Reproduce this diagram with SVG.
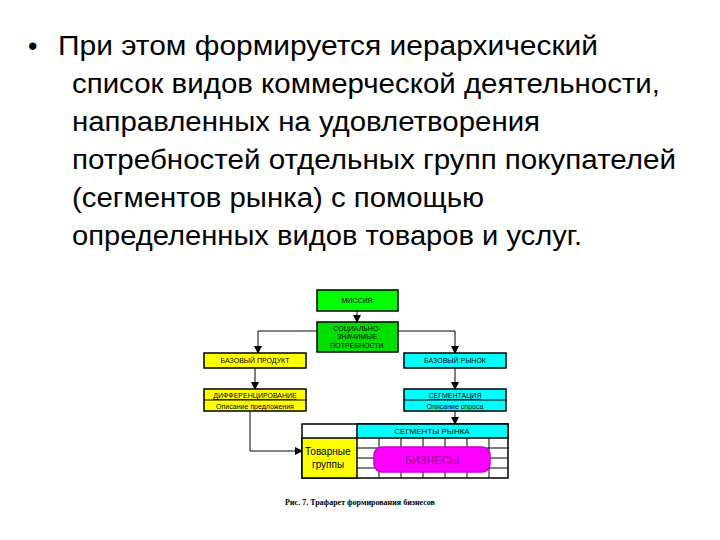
<svg xmlns="http://www.w3.org/2000/svg" width="720" height="540" viewBox="0 0 720 540">
<style>
.t{font-family:"Liberation Sans","DejaVu Sans",sans-serif;font-size:27px;fill:#000}
.s{font-family:"Liberation Sans",Arial,sans-serif;font-size:7px;fill:#000;text-anchor:middle}
.b{stroke:#000;stroke-width:1.5}
.l{stroke:#000;stroke-width:1;fill:none}
</style>
<defs><marker id="a" markerWidth="8" markerHeight="8" refX="7" refY="4" orient="auto" markerUnits="userSpaceOnUse"><path d="M0,0L8,4L0,8z" fill="#000"/></marker></defs>
<rect width="720" height="540" fill="#fff"/>
<g id="text">
<text class="t" x="28" y="55">•</text>
<text class="t" x="58" y="55" textLength="540" lengthAdjust="spacingAndGlyphs">При этом формируется иерархический</text>
<text class="t" x="72" y="93" textLength="588" lengthAdjust="spacingAndGlyphs">список видов коммерческой деятельности,</text>
<text class="t" x="72" y="131" textLength="468" lengthAdjust="spacingAndGlyphs">направленных на удовлетворения</text>
<text class="t" x="72" y="169" textLength="604" lengthAdjust="spacingAndGlyphs">потребностей отдельных групп покупателей</text>
<text class="t" x="72" y="207" textLength="412" lengthAdjust="spacingAndGlyphs">(сегментов рынка) с помощью</text>
<text class="t" x="72" y="245" textLength="510" lengthAdjust="spacingAndGlyphs">определенных видов товаров и услуг.</text>
</g>
<g id="connectors">
<line class="l" x1="357" y1="311" x2="357" y2="322" marker-end="url(#a)"/>
<polyline class="l" points="317,331 258,331 258,353" marker-end="url(#a)"/>
<polyline class="l" points="398,331 455,331 455,353" marker-end="url(#a)"/>
<line class="l" x1="255" y1="368" x2="255" y2="389" marker-end="url(#a)"/>
<line class="l" x1="455" y1="368" x2="455" y2="389" marker-end="url(#a)"/>
<line class="l" x1="455" y1="411" x2="455" y2="424" marker-end="url(#a)"/>
<polyline class="l" points="250,411 250,451 302,451" marker-end="url(#a)"/>
</g>
<g id="mission"><rect class="b" x="317" y="290" width="81" height="21" fill="#00ff00"/><text class="s" x="357" y="303">МИССИЯ</text></g>
<g id="needs"><rect class="b" x="317" y="322" width="81" height="30" fill="#00e000"/><text class="s" x="357" y="331">СОЦИАЛЬНО-</text><text class="s" x="357" y="339">ЗНАЧИМЫЕ</text><text class="s" x="357" y="348">ПОТРЕБНОСТИ</text></g>
<g id="product"><rect class="b" x="204" y="353" width="102" height="15" fill="#ffff00"/><text class="s" x="255" y="363">БАЗОВЫЙ ПРОДУКТ</text></g>
<g id="market"><rect class="b" x="404" y="353" width="102" height="15" fill="#00ffff"/><text class="s" x="455" y="363">БАЗОВЫЙ РЫНОК</text></g>
<g id="diff"><rect class="b" x="204" y="389" width="102" height="22" fill="#ffff00"/><line class="l" x1="204" y1="400" x2="306" y2="400"/><text class="s" x="255" y="398" text-decoration="underline">ДИФФЕРЕНЦИРОВАНИЕ</text><text class="s" x="255" y="409">Описание предложения</text></g>
<g id="segm"><rect class="b" x="404" y="389" width="102" height="22" fill="#00ffff"/><line class="l" x1="404" y1="400" x2="506" y2="400"/><text class="s" x="455" y="398" text-decoration="underline">СЕГМЕНТАЦИЯ</text><text class="s" x="455" y="409">Описание спроса</text></g>
<g id="grid">
<rect x="302" y="424" width="206" height="54" fill="#fff" class="b"/>
<rect x="357" y="424" width="151" height="14" fill="#00ffff" class="b"/>
<text class="s" x="432" y="434" style="font-size:8px">СЕГМЕНТЫ РЫНКА</text>
<rect x="302" y="438" width="55" height="40" fill="#ffff00" class="b"/>
<text x="305" y="455" style="font-family:'Liberation Sans',sans-serif;font-size:10px">Товарные</text>
<text x="312" y="468" style="font-family:'Liberation Sans',sans-serif;font-size:10px">группы</text>
<path class="l" d="M357,448H508M357,458H508M357,468H508M379,438V478M401,438V478M423,438V478M445,438V478M467,438V478M489,438V478"/>
<rect x="374" y="447" width="116" height="25" rx="8" fill="#ff00ff" stroke="#c0c" stroke-width="1.5"/>
<text x="432" y="464" text-anchor="middle" style="font-family:'Liberation Sans',sans-serif;font-size:11px;fill:#900090">БИЗНЕСЫ</text>
</g>
<text x="360" y="505" text-anchor="middle" style="font-family:'Liberation Serif',serif;font-size:8px;font-weight:bold">Рис. 7. Трафарет формирования бизнесов</text>
</svg>
